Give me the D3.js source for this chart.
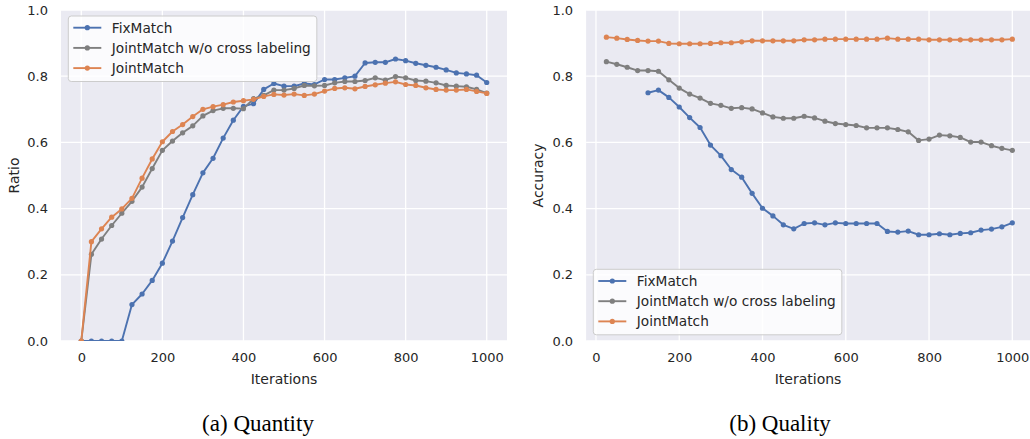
<!DOCTYPE html>
<html>
<head>
<meta charset="utf-8">
<script src="https://cdn.jsdelivr.net/npm/d3@7"></script>
<style>
  html, body { margin: 0; padding: 0; background: #ffffff; }
  svg { display: block; }
</style>
</head>
<body>
<svg id="chart" width="1030" height="439"></svg>
<script>
// ---------------- data ----------------
const seriesNames = ["FixMatch", "JointMatch w/o cross labeling", "JointMatch"];
const seriesColors = ["#4C72B0", "#7f7f7f", "#DD8452"];

const xTicks = [0, 200, 400, 600, 800, 1000];
const yTicks = [0.0, 0.2, 0.4, 0.6, 0.8, 1.0];

// (a) Quantity
const qtyIters = [0, 25, 50, 75, 100, 125, 150, 175, 200, 225, 250, 275, 300, 325, 350, 375, 400, 425, 450, 475, 500,
  525, 550, 575, 600, 625, 650, 675, 700, 725, 750, 775, 800, 825, 850, 875, 900, 925, 950, 975, 1000];
const qtyFixMatch = [0, 0, 0, 0, 0, 0.110, 0.142, 0.183, 0.235, 0.302, 0.373, 0.442, 0.508, 0.552, 0.613, 0.667, 0.709,
  0.717, 0.760, 0.778, 0.770, 0.770, 0.778, 0.775, 0.790, 0.790, 0.795, 0.800, 0.840, 0.842, 0.842, 0.852, 0.847,
  0.839, 0.833, 0.827, 0.819, 0.810, 0.807, 0.803, 0.781];
const qtyNoCross = [0, 0.262, 0.308, 0.349, 0.386, 0.422, 0.465, 0.521, 0.576, 0.604, 0.629, 0.650, 0.680, 0.696, 0.703,
  0.703, 0.702, 0.732, 0.742, 0.758, 0.758, 0.763, 0.772, 0.771, 0.772, 0.780, 0.784, 0.784, 0.787, 0.795, 0.788,
  0.799, 0.795, 0.787, 0.785, 0.780, 0.772, 0.770, 0.768, 0.760, 0.749];
const qtyJointMatch = [0, 0.300, 0.339, 0.374, 0.399, 0.431, 0.492, 0.550, 0.602, 0.633, 0.654, 0.678, 0.700, 0.708,
  0.714, 0.722, 0.726, 0.730, 0.739, 0.745, 0.743, 0.746, 0.742, 0.746, 0.755, 0.763, 0.765, 0.762, 0.769, 0.774,
  0.779, 0.783, 0.775, 0.772, 0.765, 0.760, 0.758, 0.758, 0.760, 0.754, 0.748];

// (b) Quality
const qlyIters = [25, 50, 75, 100, 125, 150, 175, 200, 225, 250, 275, 300, 325, 350, 375, 400, 425, 450, 475, 500,
  525, 550, 575, 600, 625, 650, 675, 700, 725, 750, 775, 800, 825, 850, 875, 900, 925, 950, 975, 1000];
const qlyFixMatch = [null, null, null, null, 0.750, 0.758, 0.736, 0.707, 0.675, 0.645, 0.592, 0.560, 0.518, 0.495,
  0.446, 0.401, 0.378, 0.351, 0.339, 0.355, 0.357, 0.351, 0.357, 0.355, 0.355, 0.355, 0.355, 0.331, 0.329, 0.332,
  0.321, 0.321, 0.324, 0.321, 0.325, 0.327, 0.335, 0.338, 0.345, 0.357];
const qlyNoCross = [0.844, 0.836, 0.827, 0.817, 0.817, 0.815, 0.789, 0.764, 0.746, 0.734, 0.718, 0.712, 0.703, 0.705,
  0.701, 0.689, 0.677, 0.673, 0.673, 0.679, 0.674, 0.664, 0.657, 0.654, 0.651, 0.644, 0.644, 0.644, 0.639, 0.632,
  0.606, 0.610, 0.622, 0.620, 0.615, 0.601, 0.601, 0.590, 0.582, 0.576];
const qlyJointMatch = [0.918, 0.915, 0.911, 0.908, 0.906, 0.906, 0.899, 0.898, 0.898, 0.898, 0.899, 0.901, 0.901,
  0.904, 0.907, 0.907, 0.907, 0.907, 0.907, 0.910, 0.910, 0.912, 0.912, 0.912, 0.912, 0.912, 0.912, 0.915, 0.912,
  0.912, 0.912, 0.910, 0.910, 0.910, 0.910, 0.910, 0.910, 0.910, 0.910, 0.912];

// ---------------- drawing ----------------
const svg = d3.select("#chart");
const TEXT = "#262626";
const FS = 13;
const SANS = "DejaVu Sans, sans-serif";
const SERIF = "'Liberation Serif', 'Times New Roman', serif";

function panel(cfg) {
  const x = d3.scaleLinear().domain(cfg.xDomain).range(cfg.xRange);
  const y = d3.scaleLinear().domain([0, 1]).range([341, 10]);
  const [x0, x1] = cfg.xRange;
  const g = svg.append("g");

  const clipId = "clip-" + cfg.id;
  svg.append("clipPath").attr("id", clipId)
    .append("rect").attr("x", x0).attr("y", 10).attr("width", x1 - x0).attr("height", 331);

  g.append("rect").attr("x", x0).attr("y", 10).attr("width", x1 - x0).attr("height", 331)
    .attr("fill", "#EAEAF2");

  // grid
  g.append("g").selectAll("line").data(xTicks).join("line")
    .attr("x1", d => x(d)).attr("x2", d => x(d)).attr("y1", 10).attr("y2", 341)
    .attr("stroke", "#ffffff").attr("stroke-width", 1.3).attr("clip-path", `url(#${clipId})`);
  g.append("g").selectAll("line").data(yTicks).join("line")
    .attr("x1", x0).attr("x2", x1).attr("y1", d => y(d)).attr("y2", d => y(d))
    .attr("stroke", "#ffffff").attr("stroke-width", 1.3);

  // axes (tick labels only, seaborn darkgrid style)
  const xAxis = d3.axisBottom(x).tickValues(xTicks).tickSize(0).tickPadding(12).tickFormat(d3.format("d"));
  const xg = g.append("g").attr("transform", "translate(0,341)").call(xAxis);
  xg.select(".domain").remove();
  xg.selectAll("text").attr("font-size", FS).attr("fill", TEXT).style("font-family", SANS);

  const yAxis = d3.axisLeft(y).tickValues(yTicks).tickSize(0).tickPadding(13).tickFormat(d3.format(".1f"));
  const yg = g.append("g").attr("transform", `translate(${x0},0)`).call(yAxis);
  yg.select(".domain").remove();
  yg.selectAll("text").attr("font-size", FS).attr("fill", TEXT).style("font-family", SANS);

  // labels
  g.append("text").attr("x", (x0 + Math.min(x1, 1030)) / 2).attr("y", 384)
    .attr("text-anchor", "middle").attr("font-size", 14).attr("fill", TEXT).style("font-family", SANS)
    .text("Iterations");
  g.append("text").attr("transform", `translate(${cfg.yLabelX},175.5) rotate(-90)`)
    .attr("text-anchor", "middle").attr("dominant-baseline", "central")
    .attr("font-size", 14).attr("fill", TEXT).style("font-family", SANS).text(cfg.yLabel);

  // caption
  svg.append("text").attr("x", cfg.captionX).attr("y", 431)
    .attr("text-anchor", "middle").style("font-family", SERIF)
    .attr("font-size", 23).attr("fill", "#000").text(cfg.caption);

  // series
  const plot = g.append("g").attr("clip-path", `url(#${clipId})`);
  cfg.series.forEach((vals, i) => {
    const pts = cfg.iters.map((it, k) => ({ x: it, y: vals[k] }));
    const line = d3.line().defined(d => d.y !== null).x(d => x(d.x)).y(d => y(d.y));
    plot.append("path").datum(pts).attr("d", line)
      .attr("fill", "none").attr("stroke", seriesColors[i]).attr("stroke-width", 1.9)
      .attr("stroke-linejoin", "round").attr("stroke-linecap", "round");
    plot.append("g").selectAll("circle").data(pts.filter(d => d.y !== null)).join("circle")
      .attr("cx", d => x(d.x)).attr("cy", d => y(d.y)).attr("r", 2.6).attr("fill", seriesColors[i]);
  });

  // legend
  const lg = g.append("g");
  const box = lg.append("rect").attr("x", cfg.legend.x).attr("y", cfg.legend.y)
    .attr("rx", 3).attr("ry", 3).attr("height", 65.5)
    .attr("fill", "#ffffff").attr("fill-opacity", 0.8).attr("stroke", "#cccccc").attr("stroke-width", 1);
  let maxEnd = 0;
  seriesNames.forEach((name, i) => {
    const ry = cfg.legend.y + 11.7 + i * 20.2;
    lg.append("line").attr("x1", cfg.legend.x + 5).attr("x2", cfg.legend.x + 33)
      .attr("y1", ry).attr("y2", ry).attr("stroke", seriesColors[i]).attr("stroke-width", 1.9);
    lg.append("circle").attr("cx", cfg.legend.x + 19).attr("cy", ry).attr("r", 2.6).attr("fill", seriesColors[i]);
    const t = lg.append("text").attr("x", cfg.legend.x + 43.5).attr("y", ry)
      .attr("dominant-baseline", "central").attr("font-size", 13.7).attr("fill", TEXT)
      .style("font-family", SANS).text(name);
    maxEnd = Math.max(maxEnd, t.node().getComputedTextLength());
  });
  box.attr("width", 43.5 + maxEnd + 6);
}

panel({
  id: "qty",
  xDomain: [-50, 1050], xRange: [61.0, 507.0],
  iters: qtyIters, series: [qtyFixMatch, qtyNoCross, qtyJointMatch],
  yLabel: "Ratio", yLabelX: 14,
  caption: "(a) Quantity", captionX: 258,
  legend: { x: 68.3, y: 16 }
});
panel({
  id: "qly",
  xDomain: [-23.75, 1048.75], xRange: [586.1, 1032.6],
  iters: qlyIters, series: [qlyFixMatch, qlyNoCross, qlyJointMatch],
  yLabel: "Accuracy", yLabelX: 538,
  caption: "(b) Quality", captionX: 780,
  legend: { x: 593.3, y: 269.3 }
});
</script>
</body>
</html>
